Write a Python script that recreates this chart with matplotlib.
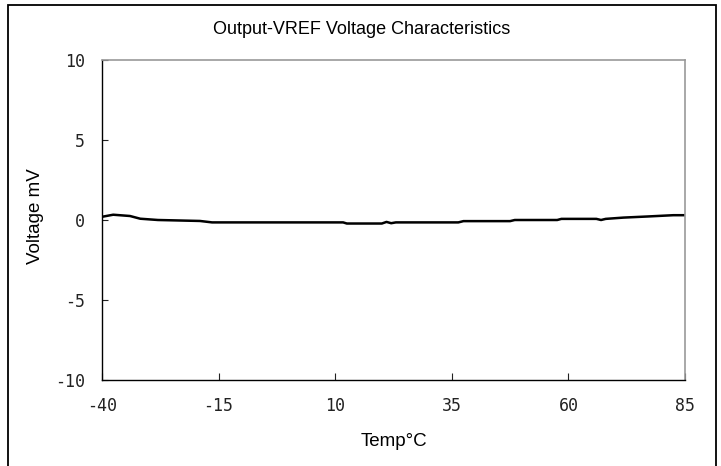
import matplotlib
matplotlib.use("Agg")
import matplotlib.pyplot as plt
from matplotlib.patches import Rectangle

# data
temp_c = [-40, -37.6, -34, -31.8, -28, -19, -16.4, 11.7, 12.5, 20, 21, 22, 23,
          36.4, 37.5, 47.5, 48.5, 57.6, 58.5, 66, 67, 68, 71.8, 77, 82.5, 85]
vout_mv = [0.2, 0.33, 0.25, 0.08, 0.0, -0.06, -0.15, -0.15, -0.22, -0.22, -0.12, -0.2, -0.15,
           -0.15, -0.07, -0.07, 0.0, 0.0, 0.07, 0.07, 0.0, 0.07, 0.15, 0.22, 0.3, 0.3]
x_ticks = [-40, -15, 10, 35, 60, 85]
y_ticks = [-10, -5, 0, 5, 10]

title = "Output-VREF Voltage Characteristics"
xlabel = "Temp°C"
ylabel = "Voltage mV"

W, H = 721, 466
fig = plt.figure(figsize=(W / 100, H / 100), dpi=100)

# figure border
fig.patches.append(Rectangle((8 / W, -0.05), (716 - 8) / W, 1.05 - 5 / H,
                             transform=fig.transFigure, fill=False,
                             edgecolor="black", linewidth=1.3))

left, right, top, bottom = 102, 685, 60, 380
ax = fig.add_axes([left / W, 1 - bottom / H, (right - left) / W, (bottom - top) / H])

ax.plot(temp_c, vout_mv, color="black", linewidth=1.8)

ax.set_xlim(-40, 85)
ax.set_ylim(-10, 10)
ax.set_xticks(x_ticks)
ax.set_yticks(y_ticks)
ax.set_xticklabels([str(v) for v in x_ticks], family="DejaVu Sans Mono", fontsize=12)
ax.set_yticklabels([str(v) for v in y_ticks], family="DejaVu Sans Mono", fontsize=12)
ax.tick_params(axis="x", direction="in", length=5, width=0.8, pad=12, colors="#222222")
ax.tick_params(axis="y", direction="in", length=4, width=0.8, pad=12, colors="#222222")

for s in ("top", "right"):
    ax.spines[s].set_color("#999999")
    ax.spines[s].set_linewidth(1.2)
for s in ("left", "bottom"):
    ax.spines[s].set_color("black")
    ax.spines[s].set_linewidth(1.0)

fig.text(362 / W, 1 - 30 / H, title, ha="center", va="center",
         family="Liberation Sans", fontsize=13)
fig.text(394 / W, 1 - 441 / H, xlabel, ha="center", va="center",
         family="Liberation Sans", fontsize=13.5)
fig.text(35 / W, 1 - 216 / H, ylabel, ha="center", va="center", rotation=90,
         family="Liberation Sans", fontsize=13.5)

fig.savefig("out.png", dpi=100)
